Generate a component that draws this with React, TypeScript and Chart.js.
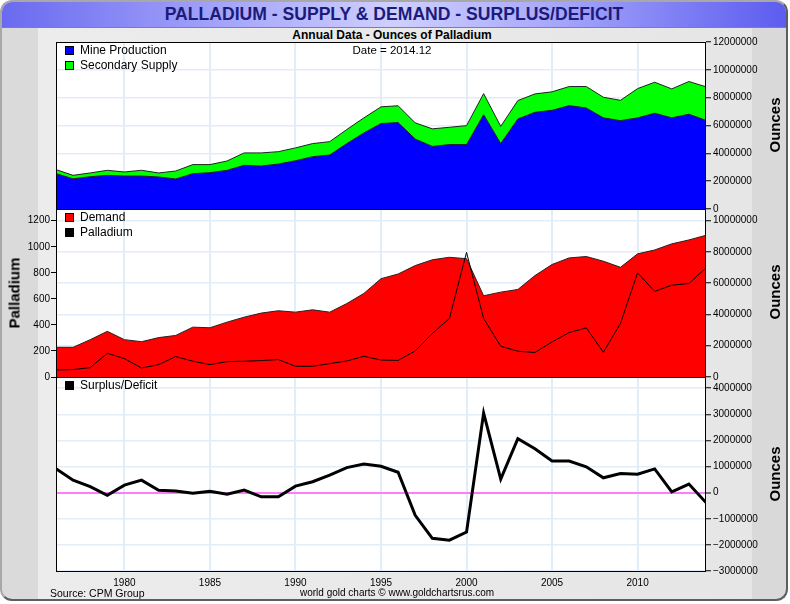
import { useEffect, useRef } from 'react';
import { Chart, registerables } from 'chart.js';
import type { ChartConfiguration, Plugin } from 'chart.js';

Chart.register(...registerables);

const FONT = "'Liberation Sans', Arial, Helvetica, sans-serif";
Chart.defaults.font.family = FONT;
Chart.defaults.font.size = 10;
Chart.defaults.color = '#000';

// ---- data (ounces unless noted) ----
const years = [
  1976, 1977, 1978, 1979, 1980, 1981, 1982, 1983, 1984, 1985, 1986, 1987, 1988,
  1989, 1990, 1991, 1992, 1993, 1994, 1995, 1996, 1997, 1998, 1999, 2000, 2001,
  2002, 2003, 2004, 2005, 2006, 2007, 2008, 2009, 2010, 2011, 2012, 2013, 2014,
];
const mineProduction = [
  2540000, 2170000, 2320000, 2420000, 2370000, 2370000, 2300000, 2160000, 2540000, 2610000,
  2780000, 3140000, 3090000, 3230000, 3470000, 3760000, 3880000, 4700000, 5470000, 6140000,
  6210000, 5030000, 4500000, 4630000, 4630000, 6780000, 4700000, 6470000, 6950000, 7090000,
  7430000, 7260000, 6550000, 6350000, 6550000, 6880000, 6550000, 6810000, 6370000,
];
const secondarySupply = [
  290000, 250000, 270000, 360000, 290000, 410000, 290000, 570000, 650000, 580000,
  670000, 890000, 940000, 890000, 920000, 940000, 960000, 1010000, 1080000, 1200000,
  1210000, 1160000, 1260000, 1240000, 1360000, 1510000, 1240000, 1320000, 1320000, 1330000,
  1370000, 1540000, 1480000, 1460000, 2100000, 2230000, 2080000, 2350000, 2410000,
];
const demand = [
  1900000, 1900000, 2390000, 2920000, 2390000, 2260000, 2520000, 2660000, 3190000, 3150000,
  3510000, 3830000, 4090000, 4240000, 4150000, 4300000, 4150000, 4700000, 5350000, 6290000,
  6590000, 7130000, 7500000, 7660000, 7570000, 5200000, 5430000, 5600000, 6490000, 7200000,
  7620000, 7710000, 7410000, 7020000, 7880000, 8130000, 8520000, 8770000, 9070000,
];
// palladium price, US$ per ounce
const palladium = [
  54, 57, 72, 182, 141, 69, 95, 157, 121, 95,
  118, 121, 126, 134, 82, 82, 103, 123, 159, 130,
  127, 200, 334, 449, 957, 449, 236, 198, 188, 269,
  341, 377, 190, 411, 800, 657, 705, 718, 838,
];
const surplusDeficit = [
  920000, 480000, 230000, -100000, 290000, 480000, 90000, 60000, -20000, 50000,
  -60000, 100000, -160000, -160000, 250000, 420000, 670000, 960000, 1100000, 1010000,
  780000, -870000, -1750000, -1820000, -1510000, 3050000, 520000, 2070000, 1680000, 1210000,
  1210000, 990000, 570000, 730000, 710000, 910000, 30000, 330000, -380000,
];

const yearTicks = [1980, 1985, 1990, 1995, 2000, 2005, 2010];
const supplyTicks = [0, 2000000, 4000000, 6000000, 8000000, 10000000, 12000000];
const demandTicks = [0, 2000000, 4000000, 6000000, 8000000, 10000000];
const priceTicks = [0, 200, 400, 600, 800, 1000, 1200];
const balanceTicks = [-3000000, -2000000, -1000000, 0, 1000000, 2000000, 3000000, 4000000];

const GRID = '#e1edf8';
const pts = (vals: number[]) => vals.map((v, i) => ({ x: years[i], y: v }));
const fmt = (v: number | string) => String(v).replace('-', '\u2212');

// white plot area, legend inside the plot, black frame
const panelPlugin: Plugin = {
  id: 'panelPlugin',
  beforeDraw(chart) {
    const { ctx, chartArea: a } = chart;
    ctx.save();
    ctx.fillStyle = '#fff';
    ctx.fillRect(a.left, a.top, a.width, a.height);
    ctx.restore();
  },
  afterDatasetsDraw(chart) {
    const { ctx, chartArea: a } = chart;
    ctx.save();
    ctx.font = `12px ${FONT}`;
    ctx.textBaseline = 'middle';
    chart.data.datasets.forEach((ds: any, i) => {
      const y = Math.round(a.top + 8 + i * 14.5);
      const x = a.left + 9;
      ctx.fillStyle = ds.fill ? ds.backgroundColor : ds.borderColor;
      ctx.fillRect(x, y - 4, 9, 9);
      ctx.strokeStyle = '#000';
      ctx.lineWidth = 1;
      ctx.strokeRect(x + 0.5, y - 3.5, 8, 8);
      ctx.fillStyle = '#000';
      ctx.fillText(ds.label, x + 15, y + 1);
    });
    ctx.strokeStyle = '#000';
    ctx.lineWidth = 1;
    ctx.strokeRect(a.left + 0.5, a.top + 0.5, a.width - 1, a.height);
    ctx.restore();
  },
};

function xAxis(showLabels: boolean) {
  return {
    type: 'linear' as const,
    min: 1976,
    max: 2014,
    afterBuildTicks: (s: any) => {
      s.ticks = yearTicks.map((v) => ({ value: v }));
    },
    afterFit: (s: any) => {
      s.height = showLabels ? 21 : 0;
    },
    grid: { color: GRID, lineWidth: 2, drawTicks: false },
    border: { display: false },
    ticks: { display: showLabels, padding: 6, callback: (v: any) => String(v) },
  };
}

function rightAxis(min: number, max: number, ticks: number[], stacked = false) {
  return {
    type: 'linear' as const,
    position: 'right' as const,
    min,
    max,
    stacked,
    afterBuildTicks: (s: any) => {
      s.ticks = ticks.map((v) => ({ value: v }));
    },
    afterFit: (s: any) => {
      s.width = 84;
    },
    grid: {
      color: (c: any) => (stacked === false && min < 0 && c.tick && c.tick.value === 0 ? '#ff7cff' : GRID),
      lineWidth: (c: any) => (min < 0 && c.tick && c.tick.value === 0 ? 2 : 1.5),
      tickLength: 5,
      tickColor: '#000',
      tickWidth: 1,
    },
    border: { display: false },
    ticks: { padding: 2, crossAlign: 'near' as const, callback: (v: any) => fmt(v) },
  };
}

const baseOptions = {
  responsive: false,
  animation: false as const,
  events: [] as any[],
  elements: { point: { radius: 0 }, line: { tension: 0 } },
  plugins: { legend: { display: false }, tooltip: { enabled: false } },
};

function supplyConfig(): ChartConfiguration {
  return {
    type: 'line',
    data: {
      datasets: [
        { label: 'Mine Production', data: pts(mineProduction), fill: 'origin', backgroundColor: '#0000ff', borderColor: '#222', borderWidth: 1 },
        { label: 'Secondary Supply', data: pts(secondarySupply), fill: '-1', backgroundColor: '#00ff00', borderColor: '#222', borderWidth: 1 },
      ],
    },
    options: {
      ...baseOptions,
      layout: { padding: { top: 10, bottom: 10, left: 56, right: 0 } },
      scales: { x: xAxis(false), y: rightAxis(0, 12000000, supplyTicks, true) },
    } as any,
    plugins: [panelPlugin],
  };
}

function demandConfig(): ChartConfiguration {
  return {
    type: 'line',
    data: {
      datasets: [
        { label: 'Demand', data: pts(demand), yAxisID: 'y', order: 1, fill: 'origin', backgroundColor: '#ff0000', borderColor: '#222', borderWidth: 1 },
        { label: 'Palladium', data: pts(palladium), yAxisID: 'yL', order: 0, fill: false, borderColor: '#000', borderWidth: 1 },
      ],
    },
    options: {
      ...baseOptions,
      layout: { padding: { top: 10, bottom: 10, left: 0, right: 0 } },
      scales: {
        x: xAxis(false),
        y: rightAxis(0, 10750000, demandTicks),
        yL: {
          type: 'linear',
          position: 'left',
          min: 0,
          max: 1290,
          afterBuildTicks: (s: any) => {
            s.ticks = priceTicks.map((v) => ({ value: v }));
          },
          afterFit: (s: any) => {
            s.width = 56;
          },
          grid: { drawOnChartArea: false, tickLength: 5, tickColor: '#000', tickWidth: 1 },
          border: { display: false },
          ticks: { padding: 1, callback: (v: any) => String(v) },
        },
      },
    } as any,
    plugins: [panelPlugin],
  };
}

function balanceConfig(): ChartConfiguration {
  return {
    type: 'line',
    data: {
      datasets: [
        { label: 'Surplus/Deficit', data: pts(surplusDeficit), fill: false, borderColor: '#000', borderWidth: 3 },
      ],
    },
    options: {
      ...baseOptions,
      layout: { padding: { top: 10, bottom: 0, left: 56, right: 0 } },
      scales: { x: xAxis(true), y: rightAxis(-3000000, 4430000, balanceTicks) },
    } as any,
    plugins: [panelPlugin],
  };
}

function ChartPanel({ make, top, height }: { make: () => ChartConfiguration; top: number; height: number }) {
  const canvasRef = useRef<HTMLCanvasElement | null>(null);

  useEffect(() => {
    if (!canvasRef.current) return;
    const chart = new Chart(canvasRef.current, make());
    return () => chart.destroy();
  }, [make]);

  return (
    <canvas
      ref={canvasRef}
      width={790}
      height={height}
      style={{ position: 'absolute', left: 0, top, width: 790, height }}
    />
  );
}

function AxisTitle({ text, x, y }: { text: string; x: number; y: number }) {
  return (
    <div
      style={{
        position: 'absolute',
        left: x,
        top: y,
        transform: 'translate(-50%, -50%) rotate(-90deg)',
        fontWeight: 'bold',
        fontSize: 15,
        whiteSpace: 'nowrap',
      }}
    >
      {text}
    </div>
  );
}

export default function App() {
  return (
    <div
      style={{
        position: 'fixed',
        left: 0,
        top: 0,
        width: 790,
        height: 604,
        background: '#fff',
        overflow: 'hidden',
        fontFamily: FONT,
        color: '#000',
      }}
    >
      <div
        style={{
          position: 'absolute',
          left: 0,
          top: 0,
          width: 788,
          height: 601,
          boxSizing: 'border-box',
          border: '2px solid',
          borderColor: '#a8a8a8 #5e5e5e #5e5e5e #a8a8a8',
          borderRadius: 12,
          overflow: 'hidden',
          background:
            'linear-gradient(to right, #dadada 0, #dadada 36px, #ececec 36px, #e6e6e6 750px, #d9d9d9 750px)',
        }}
      >
        <div
          style={{
            position: 'absolute',
            left: 0,
            top: 0,
            right: 0,
            height: 25,
            borderBottom: '1px solid #7c7cb0',
            background: 'linear-gradient(to right, #6a6af0 0%, #a8a8fa 30%, #cfcfff 50%, #a8a8fa 70%, #5c5cf0 100%)',
          }}
        />
      </div>

      <div
        style={{
          position: 'absolute',
          left: 394,
          top: 14,
          transform: 'translate(-50%, -50%) scaleX(0.925)',
          fontWeight: 'bold',
          fontSize: 19,
          color: '#1b1b7c',
          whiteSpace: 'nowrap',
        }}
      >
        PALLADIUM - SUPPLY &amp; DEMAND - SURPLUS/DEFICIT
      </div>
      <div
        style={{
          position: 'absolute',
          left: 392,
          top: 35,
          transform: 'translate(-50%, -50%)',
          fontWeight: 'bold',
          fontSize: 12,
          whiteSpace: 'nowrap',
        }}
      >
        Annual Data - Ounces of Palladium
      </div>

      <ChartPanel make={supplyConfig} top={32} height={187} />
      <ChartPanel make={demandConfig} top={199} height={188} />
      <ChartPanel make={balanceConfig} top={367} height={225} />

      <div
        style={{
          position: 'absolute',
          left: 392,
          top: 50,
          transform: 'translate(-50%, -50%)',
          fontSize: 11.5,
          whiteSpace: 'nowrap',
        }}
      >
        Date = 2014.12
      </div>

      <AxisTitle text="Ounces" x={774} y={125} />
      <AxisTitle text="Ounces" x={774} y={292} />
      <AxisTitle text="Ounces" x={774} y={474} />
      <AxisTitle text="Palladium" x={14} y={293} />

      <div style={{ position: 'absolute', left: 50, top: 587, fontSize: 10.5, whiteSpace: 'nowrap' }}>
        Source: CPM Group
      </div>
      <div style={{ position: 'absolute', left: 300, top: 587, fontSize: 10, whiteSpace: 'nowrap' }}>
        world gold charts © www.goldchartsrus.com
      </div>
    </div>
  );
}
